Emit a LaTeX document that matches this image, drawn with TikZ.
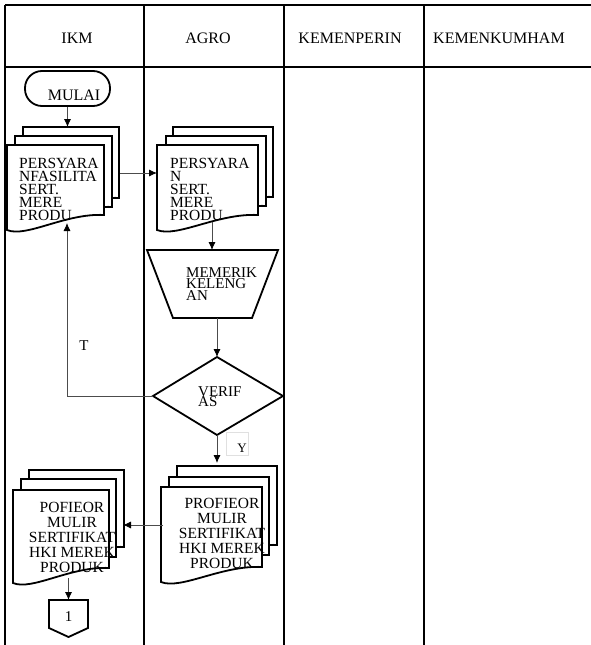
\documentclass[tikz,border=0pt]{standalone}
\usepackage{fontspec}
\setmainfont{Liberation Serif}
\usetikzlibrary{arrows.meta}
\setlength{\lineskiplimit}{-30pt}
\tikzset{
  tbl/.style={line width=2pt},
  docline/.style={line width=1.8pt, fill=white, line join=miter},
  shapeline/.style={line width=1.8pt, fill=white, line join=miter},
  conn/.style={draw=black!70, line width=0.8pt, -{Latex[length=8pt,width=7pt,color=black]}},
  hdr/.style={inner sep=0pt, font=\fontsize{16}{19}\selectfont},
  doctext/.style={inner sep=0pt, anchor=north west, align=left, font=\fontsize{15.5}{13}\selectfont},
  doctextc/.style={inner sep=0pt, anchor=north, align=center, font=\fontsize{15.5}{15}\selectfont},
  lbl/.style={inner sep=0pt, font=\fontsize{15}{17}\selectfont},
}
\newcommand\mydoc[4]{\draw[docline] (#1,#2) -- ({#1+#3},#2) -- ({#1+#3},{#2+#4-15}) .. controls ({#1+0.6*#3},{#2+#4-17}) and ({#1+0.2*#3},{#2+#4+8}) .. (#1,{#2+#4}) -- cycle;}
\begin{document}
\begin{tikzpicture}[x=1pt,y=-1pt]
\useasboundingbox (0,0) rectangle (591,645);
% table
\draw[tbl] (5,5) -- (591,5);
\draw[tbl] (5,67) -- (591,67);
\foreach \xx in {5,144,284,424} \draw[tbl] (\xx,5) -- (\xx,645);
\node[hdr] (hikm) at (77,38) {IKM};
\node[hdr] (hagro) at (208,38) {AGRO};
\node[hdr] (hperin) at (350,38) {KEMENPERIN};
\node[hdr] (hkumham) at (499,38) {KEMENKUMHAM};
% start
\node[draw, line width=1.8pt, rounded corners=17pt, minimum width=85pt, minimum height=35pt, inner sep=0pt] (mulai) at (67.5,88.5) {};
\node[hdr] (mulaitxt) at (74,95) {MULAI};
% IKM doc 1
\mydoc{23}{127}{96}{86}
\mydoc{15}{136}{97}{86}
\mydoc{7}{145}{97}{85}
\node[doctext] (ikmdoc1) at (19,158) {PERSYARA\\NFASILITA\\SERT.\\MERE\\PRODU};
% AGRO doc 1
\mydoc{173}{127}{100}{85}
\mydoc{166}{136}{100}{85}
\mydoc{157}{145}{101}{85}
\node[doctext] (agrodoc1) at (170,158) {PERSYARA\\N\\SERT.\\MERE\\PRODU};
% trapezoid
\draw[shapeline] (147,250) -- (278,250) -- (252,318) -- (173,318) -- cycle;
\node[doctext, font=\fontsize{15}{11.5}\selectfont] (memeriksa) at (186,267) {MEMERIK\\KELENG\\AN};
% diamond
\draw[shapeline] (217,357) -- (283,396) -- (217,435) -- (153,396) -- cycle;
\node[doctext, font=\fontsize{15}{10}\selectfont] (verif) at (198,386) {VERIF\\AS};
% AGRO doc 2
\mydoc{177}{466}{100}{94}
\mydoc{169}{477}{100}{93}
\mydoc{161}{487}{101}{95}
\node[doctextc] (agrodoc2) at (222,498) {PROFIEOR\\MULIR\\SERTIFIKAT\\HKI MEREK\\PRODUK};
% IKM doc 2
\mydoc{29}{470}{95}{92}
\mydoc{21}{479}{95}{93}
\mydoc{13}{490}{96}{93}
\node[doctextc] (ikmdoc2) at (72,502) {POFIEOR\\MULIR\\SERTIFIKAT\\HKI MEREK\\PRODUK};
% off-page connector
\draw[shapeline] (49,600) -- (88,600) -- (88,628) -- (68.5,637) -- (49,628) -- cycle;
\node[lbl] (one) at (68.5,617) {1};
% coordinates
\coordinate (ikmtop) at (67.5,127);
\coordinate (ikm1out) at (120,173);
\coordinate (agro1in) at (157,173);
\coordinate (agro1bot) at (212,222);
\coordinate (traptop) at (212,250);
\coordinate (trapbot) at (217,318);
\coordinate (diatop) at (217,357);
\coordinate (dialeft) at (153,396);
\coordinate (loopcorner) at (67,396);
\coordinate (ikm1bot) at (67,223);
\coordinate (diabot) at (217,435);
\coordinate (agro2top) at (217,463);
\coordinate (agro2out) at (163,525);
\coordinate (ikm2in) at (123,525);
\coordinate (ikm2bot) at (68.5,578);
\coordinate (conntop) at (68.5,600);
% connectors
\draw[conn] (mulai.south) -- (ikmtop);
\draw[conn] (ikm1out) -- (agro1in);
\draw[conn] (agro1bot) -- (traptop);
\draw[conn] (trapbot) -- (diatop);
\draw[conn] (dialeft) -- (loopcorner) -- (ikm1bot);
\draw[conn] (diabot) -- (agro2top);
\draw[conn] (agro2out) -- (ikm2in);
\draw[conn] (ikm2bot) -- (conntop);
% labels
\node[lbl] (tlabel) at (84,346) {T};
\draw[black!12, line width=0.8pt] (226,432) rectangle (248,455);
\node[lbl, font=\fontsize{13}{15}\selectfont] (ylabel) at (242,448) {Y};
\end{tikzpicture}
\end{document}
